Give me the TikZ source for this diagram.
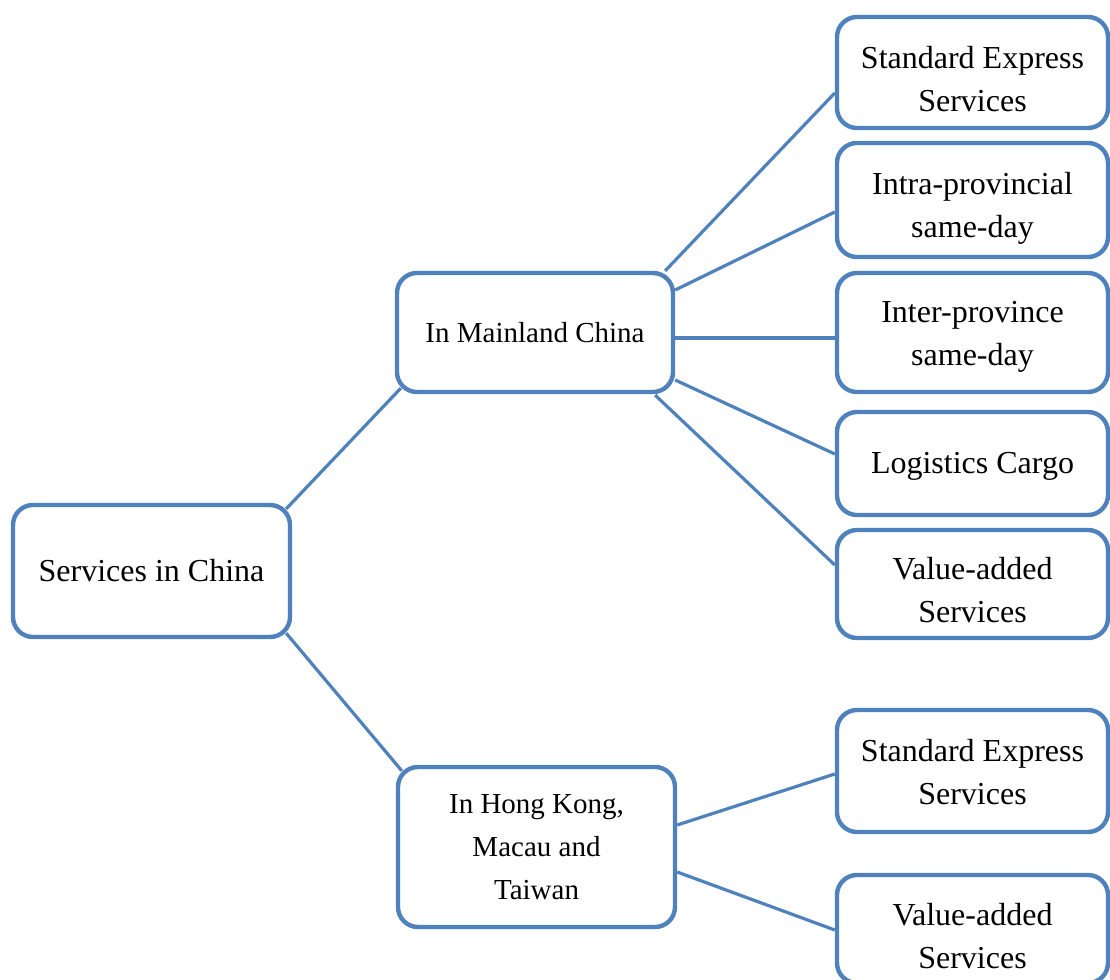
\documentclass[tikz,border=0pt]{standalone}
\usepackage{fontspec}
\setmainfont{Liberation Serif}
\usetikzlibrary{calc}
\definecolor{boxblue}{HTML}{4F81BD}
\begin{document}
\begin{tikzpicture}[x=0.5pt,y=-0.5pt,
  box/.style={draw=boxblue, line width=2.2pt, rounded corners=10pt, fill=white,
              align=center, inner sep=0pt},
  big/.style={box, font=\fontsize{16}{21.5}\selectfont},
  mid/.style={box, font=\fontsize{14.5}{21.5}\selectfont},
  leaf/.style={box, minimum width=135.5pt},
  leaftext/.style={anchor=north, align=center, inner sep=0pt,
                   font=\fontsize{16}{21.5}\selectfont},
  link/.style={draw=boxblue, line width=1.6pt}]
\useasboundingbox (0,0) rectangle (1110,980);

% root
\node[big, minimum width=138.5pt, minimum height=66pt] (root) at (151.5,571) {Services in China};

% second level
\node[mid, minimum width=138pt, minimum height=59.5pt] (main) at (535,332.5) {In Mainland China};
\node[mid, minimum width=138.5pt, minimum height=80pt] (hk) at (536.5,847) {In Hong Kong,\\Macau and\\Taiwan};

% leaves of the mainland branch (text set from the top edge of each box)
\node[leaf, minimum height=55.5pt] (se1) at (972.5,72.5) {};
\node[leaf, minimum height=57pt] (intra) at (972.5,200) {};
\node[leaf, minimum height=59.5pt] (inter) at (972.5,332.5) {};
\node[leaf, minimum height=51.5pt] (logi) at (972.5,463.5) {};
\node[leaf, minimum height=54pt] (va1) at (972.5,584) {};

% leaves of the Hong Kong / Macau / Taiwan branch
\node[leaf, minimum height=61pt] (se2) at (972.5,771) {};
\node[leaf, minimum height=54pt] (va2) at (972.5,929) {};

\node[leaftext] (se1t)   at ($(se1.north)+(0,31)$)   {Standard Express\\Services};
\node[leaftext] (intrat) at ($(intra.north)+(0,31)$) {Intra-provincial\\same-day};
\node[leaftext] (intert) at ($(inter.north)+(0,30)$) {Inter-province\\same-day};
\node[leaftext] (logit)  at ($(logi.north)+(0,42)$)  {Logistics Cargo};
\node[leaftext] (va1t)   at ($(va1.north)+(0,29)$)   {Value-added\\Services};
\node[leaftext] (se2t)   at ($(se2.north)+(0,31)$)   {Standard Express\\Services};
\node[leaftext] (va2t)   at ($(va2.north)+(0,30)$)   {Value-added\\Services};

% connectors
\draw[link] ($(root.north east)+(-6,6)$) -- ($(main.south west)+(6,-6)$);
\draw[link] ($(root.south east)+(-6,-6)$) -- ($(hk.north west)+(6,6)$);

\draw[link] ($(main.north east)+(-10,0)$) -- ($(se1.west)+(0,20.5)$);
\draw[link] ($(main.east)+(0,-42.5)$) -- ($(intra.west)+(0,12)$);
\draw[link] ($(main.east)+(0,5.5)$) -- ($(inter.west)+(0,5.5)$);
\draw[link] ($(main.east)+(0,47.5)$) -- ($(logi.west)+(0,-9.5)$);
\draw[link] ($(main.south east)+(-20,1)$) -- ($(va1.west)+(0,-19)$);

\draw[link] ($(hk.east)+(0,-22)$) -- ($(se2.west)+(0,3)$);
\draw[link] ($(hk.east)+(0,25)$) -- ($(va2.west)+(0,1)$);
\end{tikzpicture}
\end{document}
